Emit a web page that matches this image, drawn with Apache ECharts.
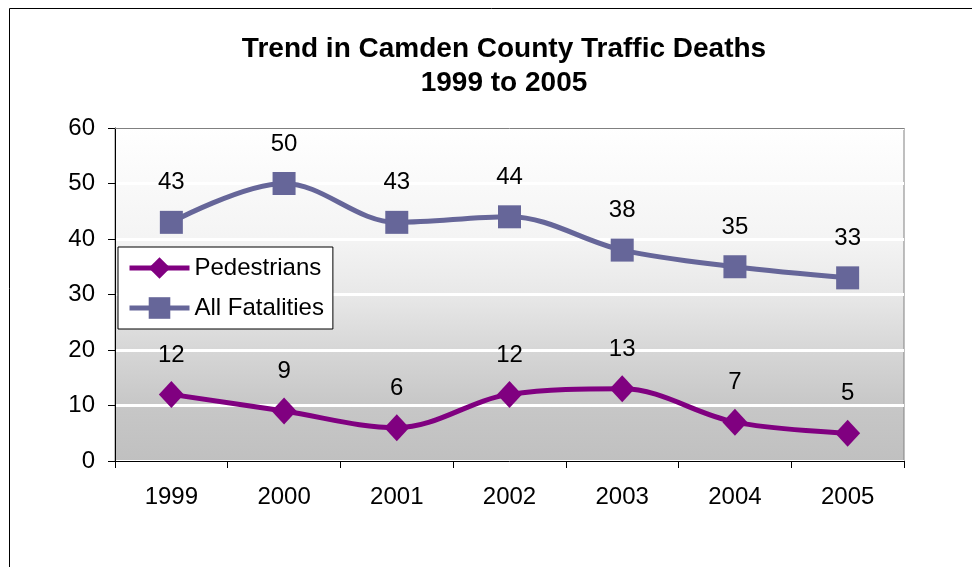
<!DOCTYPE html>
<html>
<head>
<meta charset="utf-8">
<script src="https://cdn.jsdelivr.net/npm/echarts@6/dist/echarts.min.js"></script>
<style>
  html, body { margin: 0; padding: 0; background: #fff; }
  #chart { width: 972px; height: 567px; }
</style>
</head>
<body>
<div id="chart"></div>
<script>
// values
const years = ['1999', '2000', '2001', '2002', '2003', '2004', '2005']
const pedestrians = [12, 9, 6, 12, 13, 7, 5]
const allFatalities = [43, 50, 43, 44, 38, 35, 33]

const chart = echarts.init(document.getElementById('chart'))
const font = 'Arial, "Liberation Sans", sans-serif'

const option = {
  animation: false,
  textStyle: { fontFamily: font },
  title: {
    text: 'Trend in Camden County Traffic Deaths\n1999 to 2005',
    left: 499,
    textAlign: 'center',
    top: 27,
    textStyle: {
      fontSize: 28,
      fontWeight: 'bold',
      color: '#000',
      lineHeight: 34,
      fontFamily: font
    }
  },
  graphic: [
    {
      type: 'rect',
      shape: { x: 9.5, y: 8.5, width: 1000, height: 600 },
      style: { fill: null, stroke: '#000', lineWidth: 1 },
      z: -10
    }
  ],
  legend: {
    orient: 'vertical',
    left: 118,
    top: 247,
    data: ['Pedestrians', 'All Fatalities'],
    backgroundColor: '#fff',
    borderColor: '#000',
    borderWidth: 1,
    padding: [9, 9, 9, 9],
    itemGap: 16,
    itemWidth: 60,
    itemHeight: 27,
    lineStyle: { width: 5 },
    textStyle: { fontSize: 24, color: '#000', fontFamily: font },
    z: 10
  },
  grid: {
    left: 115,
    right: 68,
    top: 128,
    bottom: 106,
    show: true,
    borderColor: '#808080',
    borderWidth: 1,
    backgroundColor: new echarts.graphic.LinearGradient(0, 0, 0, 1, [
      { offset: 0, color: '#ffffff' },
      { offset: 0.33, color: '#f4f4f4' },
      { offset: 0.5, color: '#e8e8e8' },
      { offset: 0.67, color: '#d6d6d6' },
      { offset: 0.83, color: '#c7c7c7' },
      { offset: 1, color: '#c0c0c0' }
    ])
  },
  xAxis: [
    {
      type: 'category',
      data: years,
      boundaryGap: true,
      axisLine: { lineStyle: { color: '#000', width: 1 } },
      axisTick: { show: true, length: 7, inside: false, lineStyle: { color: '#000' } },
      axisLabel: { fontSize: 24, color: '#000', margin: 24, fontFamily: font }
    },
    {
      // top border of the plot
      type: 'category',
      data: years,
      position: 'top',
      axisLine: { lineStyle: { color: '#808080', width: 1 } },
      axisTick: { show: false },
      axisLabel: { show: false }
    }
  ],
  yAxis: {
    type: 'value',
    min: 0,
    max: 60,
    interval: 10,
    axisLine: { show: true, lineStyle: { color: '#000', width: 1 } },
    axisTick: { show: true, length: 7, lineStyle: { color: '#000' } },
    axisLabel: { fontSize: 24, color: '#000', margin: 20, fontFamily: font },
    splitLine: { show: true, lineStyle: { color: '#fff', width: 3 } }
  },
  series: [
    {
      name: 'Pedestrians',
      type: 'line',
      data: pedestrians,
      smooth: 0.35,
      symbol: 'diamond',
      symbolSize: [25, 27],
      itemStyle: { color: '#800080' },
      lineStyle: { color: '#800080', width: 5 },
      label: {
        show: true,
        position: 'top',
        distance: 14,
        fontSize: 24,
        color: '#000',
        fontFamily: font
      }
    },
    {
      name: 'All Fatalities',
      type: 'line',
      data: allFatalities,
      smooth: 0.35,
      symbol: 'rect',
      symbolSize: 23,
      itemStyle: { color: '#666699' },
      lineStyle: { color: '#666699', width: 5 },
      label: {
        show: true,
        position: 'top',
        distance: 16,
        fontSize: 24,
        color: '#000',
        fontFamily: font
      }
    }
  ]
}

chart.setOption(option)
</script>
</body>
</html>
